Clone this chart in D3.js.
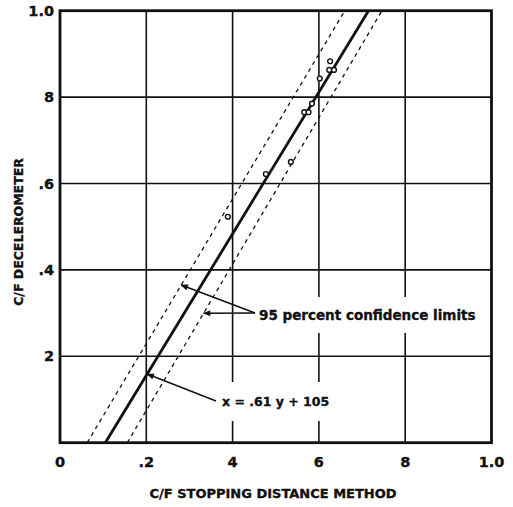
<!DOCTYPE html>
<html>
<head>
<meta charset="utf-8">
<script src="https://cdn.jsdelivr.net/npm/d3@7"></script>
<style>
  body { margin: 0; background: #fff; }
  text { font-family: "DejaVu Sans", "Liberation Sans", sans-serif; font-weight: bold; fill: #111; stroke: #111; stroke-width: 0.35px; }
</style>
</head>
<body>
<svg width="513" height="507"></svg>
<script>
// tick values and their printed labels (the original drops leading digits oddly)
var xTicks = [0, 0.2, 0.4, 0.6, 0.8, 1.0];
var xTickLabels = ["0", ".2", "4", "6", "8", "1.0"];
var yTicks = [0.2, 0.4, 0.6, 0.8, 1.0];
var yTickLabels = ["2", ".4", ".6", "8", "1.0"];

// observed points: [stopping distance C/F, decelerometer C/F]
var pointsX = [0.389, 0.477, 0.535, 0.566, 0.576, 0.584, 0.602, 0.624, 0.635, 0.626];
var pointsY = [0.523, 0.622, 0.650, 0.765, 0.765, 0.785, 0.843, 0.863, 0.863, 0.883];

// regression line x = .61y + .105 and the two 95% limits, as [x at y=0, x at y=1]
var fitLine = [0.105, 0.715];
var lowerLimit = [0.063, 0.660];
var upperLimit = [0.156, 0.746];

var svg = d3.select("svg");
var plotL = 60, plotR = 491.5, plotT = 10.7, plotB = 442.7;

var xScale = d3.scaleLinear().domain([0, 1]).range([plotL, plotR]);
var yScale = d3.scaleLinear().domain([0, 1]).range([plotB, plotT]);

var g = svg.append("g");

// grid
g.selectAll(".vgrid")
 .data(xTicks.slice(1, -1))
 .enter().append("line")
 .attr("x1", function(d) { return xScale(d); })
 .attr("x2", function(d) { return xScale(d); })
 .attr("y1", plotT).attr("y2", plotB)
 .attr("stroke", "#111").attr("stroke-width", 1.6);

g.selectAll(".hgrid")
 .data(yTicks.slice(0, -1))
 .enter().append("line")
 .attr("y1", function(d) { return yScale(d); })
 .attr("y2", function(d) { return yScale(d); })
 .attr("x1", plotL).attr("x2", plotR)
 .attr("stroke", "#111").attr("stroke-width", 1.6);

// annotation label backgrounds go over the grid, under the data
var ann = svg.append("g");

// lines
function lineEnds(v) { return [[v[0], 0], [v[1], 1]]; }
var lineGen = d3.line().x(function(d) { return xScale(d[0]); }).y(function(d) { return yScale(d[1]); });

var marks = svg.append("g");
marks.append("path").datum(lineEnds(lowerLimit))
 .attr("d", lineGen).attr("stroke", "#111").attr("stroke-width", 1.3)
 .attr("stroke-dasharray", "4,4").attr("fill", "none");
marks.append("path").datum(lineEnds(upperLimit))
 .attr("d", lineGen).attr("stroke", "#111").attr("stroke-width", 1.3)
 .attr("stroke-dasharray", "4,4").attr("fill", "none");
marks.append("path").datum(lineEnds(fitLine))
 .attr("d", lineGen).attr("stroke", "#111").attr("stroke-width", 2.8).attr("fill", "none");

// points
marks.selectAll(".pt")
 .data(pointsX)
 .enter().append("circle")
 .attr("cx", function(d) { return xScale(d); })
 .attr("cy", function(d, i) { return yScale(pointsY[i]); })
 .attr("r", 2.4)
 .attr("fill", "#fff").attr("stroke", "#111").attr("stroke-width", 1.4);

// frame
marks.append("rect")
 .attr("x", plotL).attr("y", plotT)
 .attr("width", plotR - plotL).attr("height", plotB - plotT)
 .attr("fill", "none").attr("stroke", "#111").attr("stroke-width", 2.8);

function atY(v, y) { return v[0] + (v[1] - v[0]) * y; }

// confidence limits label
var confText = ann.append("text")
 .attr("x", 259).attr("y", 320)
 .style("font-size", "13.5px")
 .text("95 percent confidence limits");
var cb = confText.node().getBBox();
ann.insert("rect", "text")
 .attr("x", cb.x - 3).attr("y", cb.y - 10).attr("width", cb.width + 6).attr("height", cb.height + 20)
 .attr("fill", "#fff");

// equation label
var eqText = ann.append("text")
 .attr("x", 222).attr("y", 406)
 .style("font-size", "12.5px")
 .text("x = .61 y + 105");
var eb = eqText.node().getBBox();
ann.insert("rect", "text")
 .attr("x", eb.x - 3).attr("y", eb.y - 12).attr("width", eb.width + 6).attr("height", eb.height + 24)
 .attr("fill", "#fff");

svg.append("defs").append("marker")
 .attr("id", "ah").attr("viewBox", "0 0 10 10").attr("refX", 9).attr("refY", 5)
 .attr("markerWidth", 6).attr("markerHeight", 5).attr("orient", "auto")
 .append("path").attr("d", "M0,1 L10,5 L0,9 Z").attr("fill", "#111");

var yUp = yScale.invert(285), yLo = yScale.invert(313.3), yEq = yScale.invert(374);
var leaders = [
  { from: [255, 313], to: [xScale(atY(lowerLimit, yUp)), 285] },
  { from: [255, 313], to: [xScale(atY(upperLimit, yLo)), 313.3] },
  { from: [216, 401], to: [xScale(atY(fitLine, yEq)), 374] }
];
svg.selectAll(".leader")
 .data(leaders)
 .enter().append("line")
 .attr("x1", function(d) { return d.from[0]; })
 .attr("y1", function(d) { return d.from[1]; })
 .attr("x2", function(d) { return d.to[0]; })
 .attr("y2", function(d) { return d.to[1]; })
 .attr("stroke", "#111").attr("stroke-width", 1.5)
 .attr("marker-end", "url(#ah)");

// tick labels
svg.selectAll(".xlab")
 .data(xTicks)
 .enter().append("text")
 .attr("x", function(d) { return xScale(d); })
 .attr("y", 467)
 .attr("text-anchor", "middle")
 .style("font-size", "14.5px")
 .text(function(d, i) { return xTickLabels[i]; });

svg.selectAll(".ylab")
 .data(yTicks)
 .enter().append("text")
 .attr("x", 54)
 .attr("y", function(d) { return yScale(d) + 5; })
 .attr("text-anchor", "end")
 .style("font-size", "14.5px")
 .text(function(d, i) { return yTickLabels[i]; });

// axis titles
svg.append("text")
 .attr("x", 273).attr("y", 498)
 .attr("text-anchor", "middle")
 .style("font-size", "13px")
 .text("C/F STOPPING DISTANCE METHOD");

svg.append("text")
 .attr("transform", "translate(23," + 232 + ") rotate(-90)")
 .attr("text-anchor", "middle")
 .style("font-size", "12.5px")
 .text("C/F DECELEROMETER");
</script>
</body>
</html>
